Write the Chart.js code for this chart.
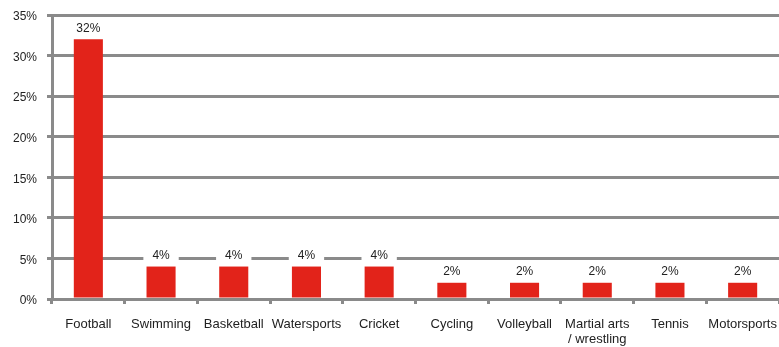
<!DOCTYPE html>
<html>
<head>
<meta charset="utf-8">
<script src="https://cdn.jsdelivr.net/npm/chart.js@4"></script>
<style>
  html, body { margin: 0; padding: 0; background: #fff; }
  #wrap { width: 779px; height: 347px; }
</style>
</head>
<body>
<div id="wrap"><canvas id="sports-chart"></canvas></div>
<script>
// Share of respondents by favourite sport
const sports = ['Football', 'Swimming', 'Basketball', 'Watersports', 'Cricket',
  'Cycling', 'Volleyball', ['Martial arts', '/ wrestling'], 'Tennis', 'Motorsports'];
const shares = [32, 4, 4, 4, 4, 2, 2, 2, 2, 2];
const yTicks = [0, 5, 10, 15, 20, 25, 30, 35];

const GRID = '#8a8a8a';
const TEXT = '#222';
const FONT = { family: 'Liberation Sans, Arial, sans-serif', size: 12 };
const XFONT = { family: 'Liberation Sans, Arial, sans-serif', size: 13, lineHeight: 1.15 };

// value labels above each bar, on a white box that breaks the gridlines
const barLabels = {
  id: 'barLabels',
  afterDatasetsDraw(chart) {
    const ctx = chart.ctx;
    const meta = chart.getDatasetMeta(0);
    ctx.save();
    ctx.font = `${FONT.size}px ${FONT.family}`;
    ctx.textAlign = 'center';
    ctx.textBaseline = 'middle';
    meta.data.forEach((bar, i) => {
      const text = shares[i] + '%';
      const y = bar.y - 11;
      const w = ctx.measureText(text).width + 18;
      ctx.fillStyle = '#fff';
      ctx.fillRect(bar.x - w / 2, y - 9, w, 17);
      ctx.fillStyle = TEXT;
      ctx.fillText(text, bar.x, y);
    });
    ctx.restore();
  }
};

new Chart(document.getElementById('sports-chart'), {
  type: 'bar',
  data: {
    labels: sports,
    datasets: [{
      data: shares,
      backgroundColor: '#e2231a',
      borderWidth: 0,
      barPercentage: 0.4,
      categoryPercentage: 1
    }]
  },
  options: {
    responsive: true,
    maintainAspectRatio: false,
    animation: false,
    layout: { padding: { top: 15, right: 0, left: 0, bottom: 0 } },
    plugins: {
      legend: { display: false },
      tooltip: { enabled: false }
    },
    scales: {
      x: {
        grid: { display: true, drawOnChartArea: false, drawTicks: true, tickLength: 5, color: GRID, lineWidth: 3, offset: true },
        border: { display: true, color: GRID, width: 3 },
        ticks: { color: TEXT, font: XFONT, padding: 13, maxRotation: 0, autoSkip: false },
        afterFit(scale) {
          scale.height = 48;
          scale.paddingLeft = 0;
          scale.paddingRight = 0;
        }
      },
      y: {
        min: 0,
        max: 35,
        afterBuildTicks(scale) { scale.ticks = yTicks.map(v => ({ value: v })); },
        grid: { color: GRID, lineWidth: 3, tickLength: 5 },
        border: { display: true, color: GRID, width: 3 },
        ticks: { color: TEXT, font: FONT, padding: 10, labelOffset: 2, callback: v => v + '%' },
        afterFit(scale) {
          scale.width = 52;
          scale.paddingTop = 0;
          scale.paddingBottom = 0;
        }
      }
    }
  },
  plugins: [barLabels]
});
</script>
</body>
</html>
